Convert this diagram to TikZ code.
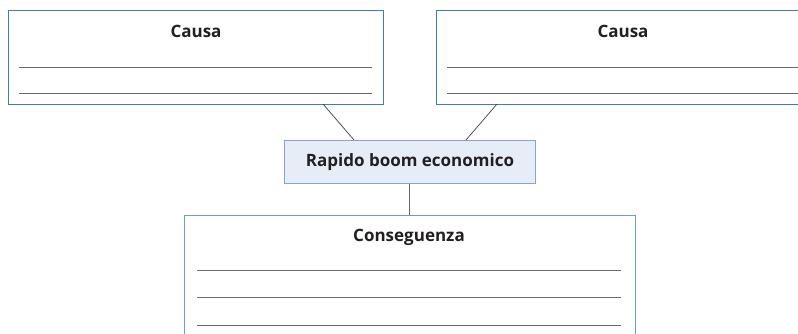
\documentclass[tikz,border=0pt]{standalone}
\usepackage{fontspec}
\setmainfont{Open Sans}
\definecolor{boxblue}{HTML}{3A7CCB}
\definecolor{midblue}{HTML}{7FA6D8}
\definecolor{midfill}{HTML}{E6EDF7}
\definecolor{conblue}{HTML}{6E9AD4}
\definecolor{rulegray}{HTML}{6A6A6A}
\definecolor{txt}{HTML}{231F20}
\begin{document}
\begin{tikzpicture}[x=1pt,y=-1pt,
  causebox/.style={draw=boxblue,line width=1.4pt,fill=white,rectangle,anchor=north west,inner sep=0pt},
  conbox/.style={draw=conblue,line width=1.4pt,fill=white,rectangle,anchor=north west,inner sep=0pt},
  midbox/.style={draw=midblue,line width=1.4pt,fill=midfill,rectangle,anchor=north west,inner sep=0pt},
  title/.style={font=\fontsize{17}{19}\selectfont\bfseries,text=txt,inner sep=0pt},
  rule/.style={draw=rulegray,line width=0.9pt},
  link/.style={draw=black!75,line width=0.7pt}]
\useasboundingbox (0,0) rectangle (798,333);
\clip (0,0) rectangle (798,333);
\fill[white] (0,0) rectangle (798,333);
% boxes
\node[causebox,minimum width=375pt,minimum height=94pt] (c1) at (8,10) {};
\node[causebox,minimum width=380pt,minimum height=94pt] (c2) at (436,10) {};
\node[midbox,minimum width=251pt,minimum height=43pt] (m) at (284,140) {};
\node[conbox,minimum width=451pt,minimum height=140pt] (k) at (184,215) {};
% titles
\node[title] (t1) at (196,31) {Causa};
\node[title] (t2) at (623,31) {Causa};
\node[title] (tm) at (410,162) {Rapido boom economico};
\node[title] (tk) at (409,237) {Conseguenza};
% writing rules
\coordinate (a1) at (19,67); \coordinate (b1) at (372,67);
\coordinate (a2) at (19,93); \coordinate (b2) at (372,93);
\draw[rule] (a1) -- (b1); \draw[rule] (a2) -- (b2);
\coordinate (a3) at (447,67); \coordinate (b3) at (798,67);
\coordinate (a4) at (447,93); \coordinate (b4) at (798,93);
\draw[rule] (a3) -- (b3); \draw[rule] (a4) -- (b4);
\coordinate (a5) at (197,270); \coordinate (b5) at (621,270);
\coordinate (a6) at (197,297); \coordinate (b6) at (621,297);
\coordinate (a7) at (197,325); \coordinate (b7) at (621,325);
\draw[rule] (a5) -- (b5); \draw[rule] (a6) -- (b6); \draw[rule] (a7) -- (b7);
% connectors
\coordinate (p1) at (323,104); \coordinate (q1) at (354,140);
\coordinate (p2) at (497,104); \coordinate (q2) at (466,140);
\coordinate (p3) at (409,183); \coordinate (q3) at (409,215);
\draw[link] (p1) -- (q1);
\draw[link] (p2) -- (q2);
\draw[link,draw=black!60,line width=0.9pt] (m.south -| p3) -- (k.north -| q3);
\end{tikzpicture}
\end{document}
